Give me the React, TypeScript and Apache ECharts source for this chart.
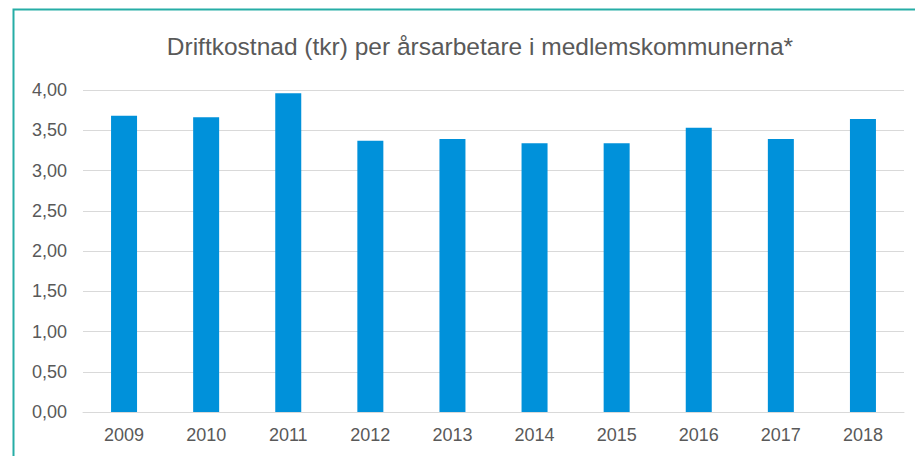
import React, { useEffect, useRef } from "react";
import * as echarts from "echarts";

const titleText = "Driftkostnad (tkr) per årsarbetare i medlemskommunerna*";
const years = ["2009", "2010", "2011", "2012", "2013", "2014", "2015", "2016", "2017", "2018"];
const values = [3.68, 3.66, 3.96, 3.37, 3.39, 3.34, 3.34, 3.53, 3.39, 3.64];

export default function App() {
  const ref = useRef<HTMLDivElement>(null);
  useEffect(() => {
    if (!ref.current) return;
    const chart = echarts.init(ref.current, null, { renderer: "svg" });
    chart.setOption({
      animation: false,
      backgroundColor: "#ffffff",
      textStyle: { fontFamily: "Liberation Sans, Arial, sans-serif" },
      title: {
        text: titleText,
        left: 475,
        textAlign: "center",
        top: 29,
        textStyle: { fontSize: 24.5, fontWeight: "normal", color: "#595959", fontFamily: "Liberation Sans, Arial, sans-serif" },
      },
      graphic: [
        {
          type: "rect",
          shape: { x: 13.5, y: 9.5, width: 1000, height: 1000 },
          style: { fill: "none", stroke: "#26ada6", lineWidth: 2 },
          silent: true,
        },
      ],
      grid: { left: 83, right: 11, top: 90, bottom: 44 },
      xAxis: {
        type: "category",
        data: years,
        axisLine: { show: true, lineStyle: { color: "#d9d9d9", width: 1 } },
        axisTick: { show: false },
        axisLabel: { color: "#595959", fontSize: 18, margin: 14 },
      },
      yAxis: {
        type: "value",
        min: 0,
        max: 4,
        interval: 0.5,
        axisLine: { show: false },
        axisTick: { show: false },
        splitLine: { lineStyle: { color: "#d9d9d9", width: 1 } },
        axisLabel: {
          color: "#595959",
          fontSize: 18,
          margin: 16,
          formatter: (v: number) => v.toFixed(2).replace(".", ","),
        },
      },
      series: [
        {
          type: "bar",
          data: values,
          barWidth: 26,
          itemStyle: { color: "#0091da" },
        },
      ],
    });
    return () => chart.dispose();
  }, []);
  return (
    <div
      ref={ref}
      style={{ position: "absolute", left: 0, top: 0, width: 915, height: 456 }}
    />
  );
}
